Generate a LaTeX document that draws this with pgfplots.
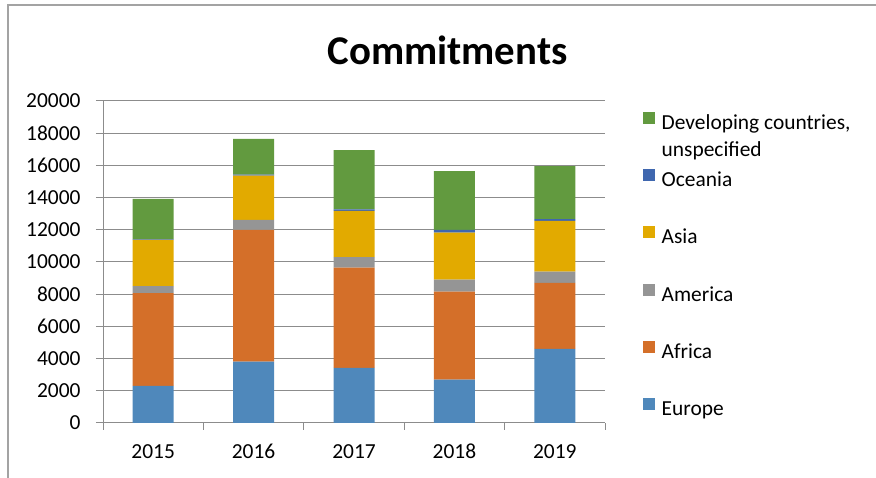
\documentclass[border=0pt]{standalone}
\usepackage{pgfplots}
\pgfplotsset{compat=1.18}
\usepackage{fontspec}
\setmainfont{Carlito}
\definecolor{cEur}{HTML}{4F88BB}
\definecolor{cAfr}{HTML}{D46F29}
\definecolor{cAme}{HTML}{959595}
\definecolor{cAsi}{HTML}{E2AA00}
\definecolor{cOce}{HTML}{3F67AF}
\definecolor{cDev}{HTML}{629A3F}
\definecolor{gridc}{HTML}{8C8C8C}
\begin{document}
\begin{tikzpicture}[x=1bp,y=1bp]
\path[use as bounding box] (0,0) rectangle (876,478);
\draw[color=gridc!80, line width=1.2bp] (8,0) -- (8,473) -- (876,473);
\node[font=\fontsize{41}{48}\selectfont\bfseries, anchor=base] at (447.5,413.5) {Commitments};
\begin{axis}[
  at={(103bp,55bp)}, anchor=south west,
  scale only axis, width=502bp, height=322bp,
  ybar stacked, bar width=41bp,
  xmin=-0.5, xmax=4.5, ymin=0, ymax=20000,
  enlargelimits=false,
  xtick={-0.5,0.5,1.5,2.5,3.5,4.5},
  x tick label as interval,
  xticklabels={2015,2016,2017,2018,2019},
  ytick={0,2000,...,20000},
  scaled y ticks=false,
  yticklabel style={xshift=-12bp, /pgf/number format/.cd, fixed, 1000 sep={}},
  xticklabel style={text height=14bp, text depth=0pt, yshift=-11bp},
  /pgf/number format/assume math mode=true,
  ticklabel style={font=\fontsize{21.5}{25}\selectfont},
  axis lines*=left,
  axis line style={draw=gridc, line width=1bp},
  ymajorgrids,
  grid style={draw=gridc, line width=1bp},
  tick align=outside, major tick length=7bp,
  tick style={draw=gridc, line width=1bp},
  reverse legend,
  legend cell align=left,
  legend image code/.code={\fill[#1] (0bp,0.5bp) rectangle (12bp,12.5bp); \path (18.7bp,6bp);},
  legend style={draw=none, fill=none, at={(1.0757,0.965)}, anchor=north west,
    inner sep=0pt, outer sep=0pt, row sep=34.6bp, column sep=0pt,
    font=\fontsize{21.5}{27}\selectfont,
    nodes={inner sep=0pt, text height=15bp, text depth=5bp}},
]
\addplot[fill=cEur, draw=none] coordinates {(0,2300) (1,3810) (2,3430) (3,2690) (4,4600)};
\addlegendentry{Europe}
\addplot[fill=cAfr, draw=none] coordinates {(0,5770) (1,8180) (2,6220) (3,5470) (4,4100)};
\addlegendentry{Africa}
\addplot[fill=cAme, draw=none] coordinates {(0,430) (1,620) (2,660) (3,740) (4,700)};
\addlegendentry{America}
\addplot[fill=cAsi, draw=none] coordinates {(0,2870) (1,2760) (2,2860) (3,2920) (4,3150)};
\addlegendentry{Asia}
\addplot[fill=cOce, draw=none] coordinates {(0,40) (1,60) (2,100) (3,170) (4,120)};
\addlegendentry{Oceania}
\addplot[fill=cDev, draw=none] coordinates {(0,2510) (1,2210) (2,3680) (3,3660) (4,3290)};
\addlegendentry{\begin{tabular}[t]{@{}l@{}}Developing countries,\\unspecified\end{tabular}}
\end{axis}
\end{tikzpicture}
\end{document}
